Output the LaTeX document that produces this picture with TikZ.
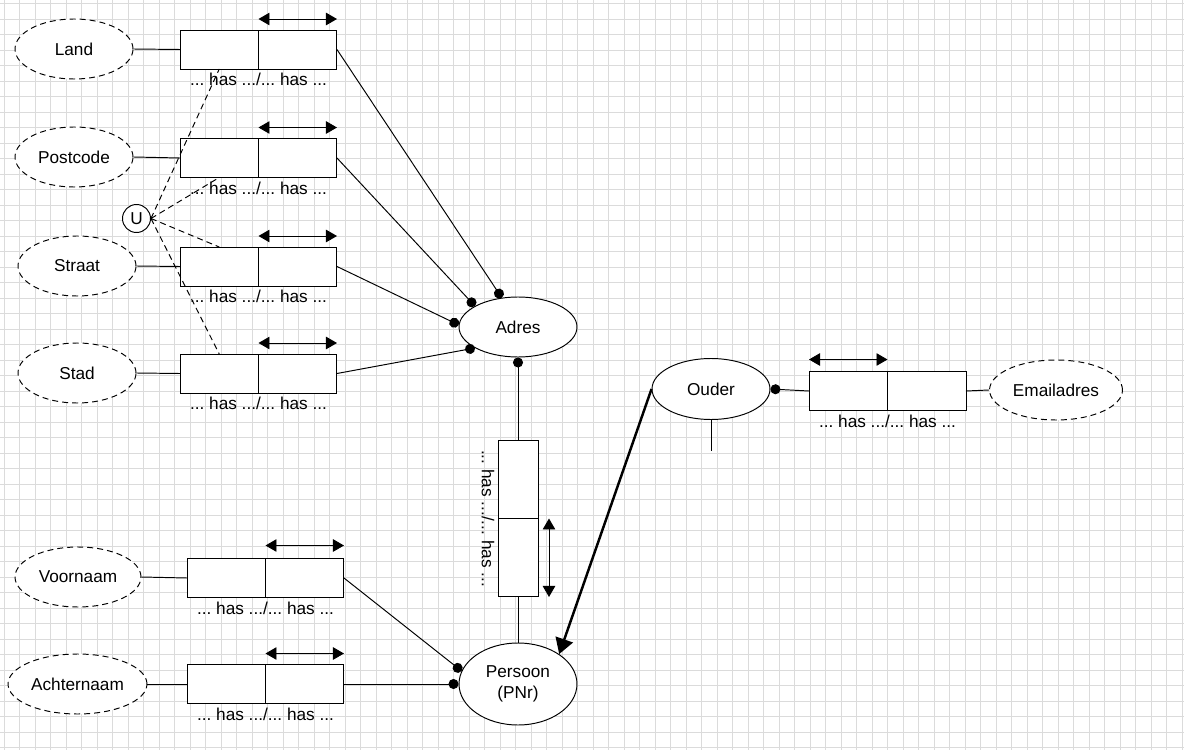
\documentclass[tikz,border=0pt]{standalone}
\usepackage{fontspec}
\setmainfont{Liberation Sans}
\usetikzlibrary{positioning, shapes.geometric, arrows.meta}
\frenchspacing

\begin{document}
\begin{tikzpicture}[x=0.02cm, y=-0.02cm, line width=0.55pt,
        font=\fontsize{9.8}{12.2}\selectfont,
        gridline/.style={draw=gray!28, line width=0.5pt},
        entity/.style={ellipse, draw, fill=white, inner sep=0pt, minimum width=2.36cm, minimum height=1.2cm, align=center},
        value/.style={entity, dash pattern=on 3.4pt off 2.3pt},
        cell/.style={rectangle, draw, fill=white, outer sep=0pt, minimum width=1.57cm, minimum height=0.78cm},
        vcell/.style={cell, minimum width=0.8cm, minimum height=1.57cm},
        hastext/.style={anchor=base, inner sep=0pt},
        uniq/.style={{Triangle[length=0.22cm, width=0.25cm]}-{Triangle[length=0.22cm, width=0.25cm]}},
        role/.style={-{Circle[length=0.2cm]}},
        subtype/.style={-{Triangle[length=0.31cm, width=0.36cm]}, line width=1.4pt},
        constraint/.style={dash pattern=on 3.4pt off 2.3pt}]
        \useasboundingbox (0,0) rectangle (1184,750);

        % Grid
        \foreach \i in {0,...,76} \draw[gridline] (4+15.5*\i,0) -- (4+15.5*\i,750);
        \foreach \j in {0,...,48} \draw[gridline] (0,3.5+15.5*\j) -- (1184,3.5+15.5*\j);

        % Value types
        \node[value] (land)     at (74,49)  {Land};
        \node[value] (postcode) at (74,157) {Postcode};
        \node[value] (straat)   at (77,266) {Straat};
        \node[value] (stad)     at (77,373) {Stad};
        \node[value, minimum width=2.52cm] (voornaam)   at (78,577)   {Voornaam};
        \node[value, minimum width=2.78cm] (achternaam) at (77.5,684) {Achternaam};
        \node[value, minimum width=2.66cm] (emailadres) at (1056,390) {Emailadres};

        % Entity types
        \node[entity] (adres) at (518,327) {Adres};
        \node[entity, minimum height=1.64cm] (persoon) at (518,684) {Persoon\\(PNr)};
        \node[entity, minimum height=1.22cm] (ouder) at (711,389) {Ouder};

        % Fact types
        \node[cell] (landL) at (219.25,49.5) {};
        \node[cell, right=0pt of landL] (landR) {};
        \node[cell] (postL) at (219.25,158) {};
        \node[cell, right=0pt of postL] (postR) {};
        \node[cell] (straatL) at (219.25,266.5) {};
        \node[cell, right=0pt of straatL] (straatR) {};
        \node[cell] (stadL) at (219.25,373.5) {};
        \node[cell, right=0pt of stadL] (stadR) {};
        \node[cell] (voorL) at (226.25,578) {};
        \node[cell, right=0pt of voorL] (voorR) {};
        \node[cell] (achterL) at (226.25,684) {};
        \node[cell, right=0pt of achterL] (achterR) {};
        \node[cell] (mailL) at (848.25,391) {};
        \node[cell, right=0pt of mailL] (mailR) {};
        \node[vcell] (vtop) at (518,479.25) {};
        \node[vcell, below=0pt of vtop] (vbot) {};

        % Fact type readings
        \node[hastext] (landT)   at ([yshift=-0.34cm]landL.south east)   {... has .../... has ...};
        \node[hastext] (postT)   at ([yshift=-0.34cm]postL.south east)   {... has .../... has ...};
        \node[hastext] (straatT) at ([yshift=-0.34cm]straatL.south east) {... has .../... has ...};
        \node[hastext] (stadT)   at ([yshift=-0.34cm]stadL.south east)   {... has .../... has ...};
        \node[hastext] (voorT)   at ([yshift=-0.34cm]voorL.south east)   {... has .../... has ...};
        \node[hastext] (achterT) at ([yshift=-0.34cm]achterL.south east) {... has .../... has ...};
        \node[hastext] (mailT)   at ([yshift=-0.34cm]mailL.south east)   {... has .../... has ...};
        \node[inner sep=0pt, rotate=-90] (vT) at (488,518.5) {... has .../... has ...};

        % Uniqueness
        \draw[uniq] ([yshift=0.22cm]landL.north east) -- ([yshift=0.22cm]landR.north east);
        \draw[uniq] ([yshift=0.22cm]postL.north east) -- ([yshift=0.22cm]postR.north east);
        \draw[uniq] ([yshift=0.22cm]straatL.north east) -- ([yshift=0.22cm]straatR.north east);
        \draw[uniq] ([yshift=0.22cm]stadL.north east) -- ([yshift=0.22cm]stadR.north east);
        \draw[uniq] ([yshift=0.26cm]voorL.north east) -- ([yshift=0.26cm]voorR.north east);
        \draw[uniq] ([yshift=0.22cm]achterL.north east) -- ([yshift=0.22cm]achterR.north east);
        \draw[uniq] ([yshift=0.24cm]mailL.north west) -- ([yshift=0.24cm]mailL.north east);
        \draw[uniq] ([xshift=0.22cm]vbot.north east) -- ([xshift=0.22cm]vbot.south east);

        % Roles
        \draw (land.east) -- (landL.west);
        \draw (postcode.east) -- (postL.west);
        \draw (straat.east) -- (straatL.west);
        \draw (stad.east) -- (stadL.west);
        \draw (voornaam.east) -- (voorL.west);
        \draw (achternaam.east) -- (achterL.west);
        \draw (mailR.east) -- (emailadres.west);
        \draw[role] (landR.east) -- (adres.119);
        \draw[role] (postR.east) -- (adres.154);
        \draw[role] (straatR.east) -- (adres.178);
        \draw[role] (stadR.east) -- (adres.206);
        \draw[role] (vtop.north) -- (adres.south);
        \draw (vbot.south) -- (persoon.north);
        \draw[role] (voorR.east) -- (persoon.167);
        \draw[role] (achterR.east) -- (persoon.west);
        \draw[role] (mailL.west) -- (ouder.east);

        % Subtype
        \draw[subtype] (ouder.west) -- (persoon.36);
        \coordinate (stub) at (711,451);
        \draw (ouder.south) -- (stub);

        % Exclusion constraint
        \node[circle, draw, fill=white, minimum size=0.56cm, inner sep=0pt] (u) at (136.5,218.5) {U};
        \draw[constraint] (u.east) -- (landL.south);
        \draw[constraint] (u.east) -- (postL.south);
        \draw[constraint] (u.east) -- (straatL.north);
        \draw[constraint] (u.east) -- (stadL.north);
    \end{tikzpicture}
\end{document}
